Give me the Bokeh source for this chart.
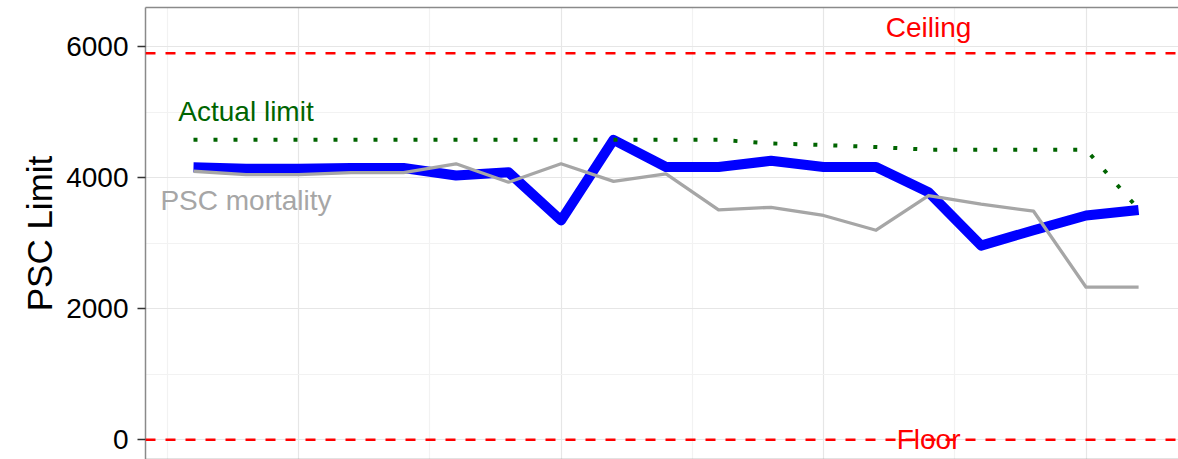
from bokeh.plotting import figure
from bokeh.models import FixedTicker, LinearAxis, Range1d, Span
from bokeh.core.properties import value
from bokeh.embed import file_html
from bokeh.resources import INLINE

# ---- data ----
years = list(range(1998, 2017))
psc_limit = [4160, 4140, 4140, 4150, 4150, 4035, 4085, 3350, 4580, 4165,
             4165, 4260, 4165, 4165, 3780, 2965, 3200, 3425, 3510]
psc_mortality = [4100, 4050, 4050, 4080, 4080, 4214, 3933, 4214, 3945, 4060,
                 3510, 3550, 3425, 3200, 3730, 3600, 3490, 2330, 2330]
actual_limit = [4580, 4580, 4580, 4580, 4580, 4580, 4580, 4580, 4580, 4580,
                4580, 4525, 4500, 4470, 4430, 4430, 4430, 4430, 3520]
ceiling_value = 5900
floor_value = 0

y_ticks = [0, 2000, 4000, 6000]
y_minor_ticks = [1000, 3000, 5000]
x_ticks = [2000, 2005, 2010, 2015]
x_minor_ticks = [1997.5, 2002.5, 2007.5, 2012.5]

label_text = ["Ceiling", "Floor", "Actual limit", "PSC mortality"]
label_x = [2012, 2012, 1999, 1999]
label_y = [6300, 0, 5020, 3650]
label_color = ["#ff0000", "#ff0000", "#006400", "#a6a6a6"]

FONT = "Liberation Sans"
BORDER = "#8a8a8a"

p = figure(width=1178, height=459, output_backend="svg", toolbar_location=None,
           x_range=Range1d(1997.086, 2016.76), y_range=Range1d(-300, 6600),
           min_border_left=145, min_border_right=0, min_border_top=7,
           min_border_bottom=0, background_fill_color="white",
           border_fill_color="white", outline_line_color=None)

# grids (own tickers)
p.xgrid.ticker = FixedTicker(ticks=x_ticks, minor_ticks=x_minor_ticks)
p.yaxis.ticker = FixedTicker(ticks=y_ticks, minor_ticks=y_minor_ticks)
p.xgrid.grid_line_color = "#e6e6e6"
p.xgrid.grid_line_width = 1.2
p.xgrid.minor_grid_line_color = "#f2f2f2"
p.xgrid.minor_grid_line_width = 1.2
p.ygrid.grid_line_color = "#e6e6e6"
p.ygrid.grid_line_width = 1.2
p.ygrid.minor_grid_line_color = "#f2f2f2"
p.ygrid.minor_grid_line_width = 1.2

# y axis
ya = p.yaxis[0]
ya.axis_line_color = BORDER
ya.axis_line_width = 1.5
ya.major_tick_line_color = "#333333"
ya.major_tick_line_width = 1.5
ya.major_tick_out = 8
ya.major_tick_in = 0
ya.minor_tick_line_color = None
ya.major_label_text_font = FONT
ya.major_label_text_font_size = "28px"
ya.major_label_text_color = "#000000"
ya.major_label_standoff = 9
ya.axis_label = "PSC Limit"
ya.axis_label_text_font = FONT
ya.axis_label_text_font_size = "35px"
ya.axis_label_text_font_style = "normal"
ya.axis_label_text_color = "#000000"
ya.axis_label_standoff = 4

# bottom axis acts only as border (no ticks, no labels)
xa = p.xaxis[0]
xa.ticker = FixedTicker(ticks=[])
xa.axis_line_color = BORDER
xa.axis_line_width = 1.5
xa.major_tick_line_color = None
xa.minor_tick_line_color = None
xa.major_tick_out = 0
xa.minor_tick_out = 0
xa.major_label_standoff = 0

# top border
top = LinearAxis(ticker=FixedTicker(ticks=[]), axis_line_color=BORDER,
                 axis_line_width=1.5, major_tick_line_color=None,
                 minor_tick_line_color=None, major_tick_out=0, minor_tick_out=0,
                 major_label_standoff=0)
p.add_layout(top, "above")

# ceiling / floor
p.add_layout(Span(location=ceiling_value, dimension="width", line_color="#ff0000",
                  line_width=2.5, line_dash="10 10"))
p.add_layout(Span(location=floor_value, dimension="width", line_color="#ff0000",
                  line_width=2.5, line_dash="10 10"))

# series
p.line(years, psc_limit, line_color="#0000ff", line_width=10,
       line_join="round", line_cap="butt")
p.line(years, psc_mortality, line_color="#a6a6a6", line_width=3.3,
       line_join="round", line_cap="butt")
p.line(years, actual_limit, line_color="#006400", line_width=4,
       line_dash="4 16", line_cap="butt")

# annotations
p.text(x=label_x, y=label_y, text=label_text, text_color=label_color,
       text_font=value(FONT), text_font_size="28px", text_align="center",
       text_baseline="middle")

open("out.html", "w").write(file_html(p, INLINE))
